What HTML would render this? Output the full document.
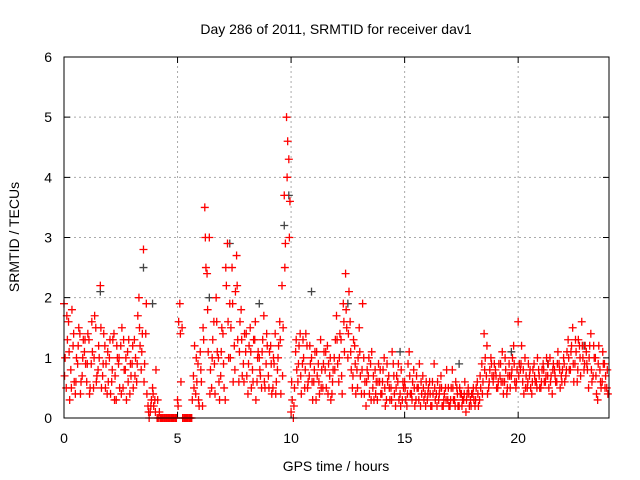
<!DOCTYPE html>
<html><head><meta charset="utf-8"><style>
body{margin:0;background:#fff;}
svg{display:block;font-family:"Liberation Sans",sans-serif;}
</style></head><body>
<svg id="chart" width="640" height="480" viewBox="0 0 640 480">
<rect width="640" height="480" fill="#fff"/>
<text x="336" y="34" font-size="14" text-anchor="middle">Day 286 of 2011, SRMTID for receiver dav1</text>
<text x="336" y="471" font-size="14" text-anchor="middle">GPS time / hours</text>
<text transform="translate(19,237) rotate(-90)" font-size="14" text-anchor="middle">SRMTID / TECUs</text>
<g id="grid"></g>
<g id="ticks"></g>
<g id="marks"></g>
<rect x="64" y="57" width="545" height="361" fill="none" stroke="#000" stroke-width="1"/>
</svg>
<script>
const xTicks=[0,5,10,15,20];
const yTicks=[0,1,2,3,4,5,6];
const redA=[1.9,0.5,1.6,0.8,1.2,0.4,0.9,1.4,0.7,1.1,
0.6,1.3,0.9,0.5,1.5,0.8,2.2,0.7,1.2,0.4,
1.0,0.6,1.4,0.3,0.9,1.2,0.5,0.8,1.1,0.4,
0.9,1.3,0.6,2.0,0.8,2.8,1.4,0.2,0.1,0.5,
0.3,0.0,0.1,0.0,0.0,0.0,0.0,0.0,0.0,0.0,
0.3,1.9,1.5,0.0,0.0,0.0,0.0,0.7,0.4,0.9,
1.1,0.2,3.5,2.4,3.0,0.5,1.6,2.0,1.0,0.7,
1.4,0.3,2.9,1.9,2.5,1.2,2.7,0.6,1.8,0.9,
1.1,0.4,1.5,0.8,1.3,0.6,1.0,0.5,1.7,0.9,
0.7,1.2,0.5,1.4,0.8,1.6,2.2,3.7,5.0,4.3,
0.1,0.0,1.1,0.6,1.4,0.9,0.5,1.2,0.7,1.0,
0.6,0.3,0.9,1.3,0.5,0.8,1.2,0.7,0.4,1.0,
1.7,0.6,1.3,1.9,2.4,1.0,1.6,0.5,1.2,0.8,
1.5,0.4,1.0,0.2,0.7,0.9,0.5,0.8,0.3,0.6,
0.4,1.0,0.3,0.7,0.5,0.9,0.2,0.6,0.4,0.3,
0.6,0.2,1.1,0.4,0.8,0.3,0.5,0.2,0.7,0.4,
0.3,0.6,0.2,0.9,0.4,0.3,0.7,0.2,0.5,0.3,
0.2,0.8,0.3,0.5,0.2,0.4,0.3,0.1,0.5,0.3,
0.4,0.2,0.6,0.3,0.9,1.4,0.7,0.5,1.0,0.6,
0.8,0.5,0.7,1.1,0.6,0.4,0.9,0.7,1.2,0.5,
1.6,0.8,0.6,1.0,0.5,0.7,0.4,0.9,0.6,0.8,
0.5,0.9,0.6,0.7,1.0,0.4,0.8,0.6,0.9,0.7,
1.0,0.7,1.3,0.8,1.5,0.9,0.6,1.2,1.6,0.8,
1.1,0.5,1.4,0.7,1.0,0.3,0.8,0.6,0.9,0.5];
const redB=[1.0,1.3,0.3,1.8,0.6,1.0,1.5,0.6,1.3,0.9,
1.4,0.5,1.1,1.7,0.7,1.0,0.5,1.4,0.9,0.6,
0.4,1.3,0.7,1.0,0.5,1.5,0.8,0.3,1.3,0.7,
0.5,1.0,1.7,1.2,1.4,0.9,0.4,0.0,0.3,0.2,
0.8,0.0,0.0,0.0,0.0,0.0,0.0,0.0,0.0,0.0,
1.6,0.6,0.0,0.0,0.0,0.0,0.3,1.2,0.6,0.2,
0.6,1.3,2.5,1.1,0.8,1.3,0.4,1.1,0.3,1.5,
0.5,2.2,1.0,1.5,0.6,2.1,1.3,1.6,0.7,1.4,
0.7,1.2,0.5,1.3,0.3,1.1,0.7,1.3,0.5,1.2,
1.1,0.4,0.9,0.6,1.2,0.4,1.5,2.9,4.6,3.6,
0.3,0.5,0.8,1.2,0.4,1.0,1.4,0.6,0.9,0.3,
1.1,0.7,0.4,0.8,1.1,0.5,0.9,0.3,0.8,1.3,
0.9,1.4,0.4,1.1,1.5,2.1,0.8,1.3,0.4,1.0,
0.7,1.9,0.6,0.8,0.4,1.1,0.3,0.6,0.9,0.4,
0.8,0.2,0.6,0.3,1.1,0.4,0.7,0.3,0.8,0.5,
0.3,0.9,0.4,0.6,0.2,0.5,0.9,0.4,0.3,0.6,
0.5,0.2,0.4,0.3,0.6,0.5,0.2,0.4,0.8,0.2,
0.5,0.3,0.6,0.2,0.4,0.3,0.6,0.4,0.2,0.4,
0.3,0.5,0.2,0.5,0.6,1.0,0.4,0.8,0.7,0.9,
0.5,0.9,0.6,0.4,0.8,0.7,0.5,1.0,0.6,0.8,
0.9,1.2,0.4,0.7,0.9,0.5,0.8,0.6,1.0,0.5,
0.8,0.6,1.0,0.5,0.7,0.9,0.6,1.1,0.5,0.8,
0.6,1.1,0.8,1.2,0.6,1.1,1.3,0.7,1.0,1.2,
0.8,1.2,0.6,1.0,0.4,1.2,0.5,0.9,0.7,0.4];
const redC=[0.7,1.7,1.1,0.5,1.4,0.6,1.2,0.4,1.0,1.3,
0.9,0.4,1.6,1.0,0.6,1.2,1.5,0.9,0.5,1.1,
1.3,0.8,0.3,1.2,1.0,0.4,1.3,1.0,0.6,0.9,
1.2,0.7,0.9,1.5,1.1,0.6,1.9,0.1,0.2,0.4,
0.1,0.3,0.0,0.0,0.0,0.0,0.0,0.0,0.0,0.0,
0.2,1.4,0.0,0.0,0.0,0.0,0.0,0.5,1.0,0.3,
0.8,1.5,3.0,1.8,0.4,1.0,0.9,1.6,0.6,1.1,
0.9,2.5,1.6,1.0,1.9,0.8,2.2,1.1,1.3,0.6,
1.4,0.9,1.1,0.6,1.6,1.0,0.8,1.1,0.6,1.4,
0.5,0.9,1.0,0.4,1.0,1.3,0.7,2.5,4.0,3.0,
0.6,0.2,1.3,0.9,0.7,1.3,0.8,0.5,1.2,0.6,
0.8,1.1,0.6,0.5,0.9,1.1,0.4,1.0,0.6,0.8,
1.3,1.0,0.7,1.6,1.8,1.4,1.1,0.7,0.9,0.5,
1.1,0.8,0.4,0.6,1.0,0.3,0.7,0.4,0.6,0.8,
0.6,0.5,0.9,0.5,0.3,0.7,0.5,0.9,0.2,0.6,
0.5,0.4,0.7,0.3,0.5,0.7,0.3,0.6,0.5,0.2,
0.4,0.4,0.6,0.5,0.2,0.4,0.5,0.3,0.3,0.5,
0.3,0.5,0.2,0.4,0.5,0.2,0.4,0.3,0.4,0.2,
0.5,0.3,0.4,0.7,0.4,0.8,1.2,0.6,0.9,0.7,
0.7,0.6,0.9,0.6,1.0,0.5,0.7,0.8,0.9,0.6,
0.7,0.9,0.8,0.5,0.6,0.8,0.6,0.7,0.5,0.7,
0.6,0.8,0.7,0.9,0.6,0.8,0.7,0.9,0.8,0.6,
0.9,0.8,1.0,1.1,0.9,1.3,0.8,1.0,1.2,0.9,
0.9,1.0,0.8,1.2,0.7,0.9,0.6,1.1,0.5,0.8];
const grayTimes=[1.6,3.5,3.9,6.4,7.3,8.6,9.7,9.9,10.9,12.5,14.8,17.4,19.7,21.3,22.9];
const grayVals=[2.1,2.5,1.9,2.0,2.9,1.9,3.2,3.7,2.1,1.9,1.1,0.9,1.1,0.9,1.2];
const X0=64,X1=609,Y0=418,Y1=57;
const xs=h=>X0+h/24*(X1-X0);
const ys=v=>Y0-v/6*(Y0-Y1);
const NS="http://www.w3.org/2000/svg";
const grid=document.getElementById('grid'),ticks=document.getElementById('ticks'),marks=document.getElementById('marks');
function mk(tag,attrs,parent){const e=document.createElementNS(NS,tag);for(const k in attrs)e.setAttribute(k,attrs[k]);parent.appendChild(e);return e;}
xTicks.forEach(t=>{
 const x=xs(t);
 if(t>0){const g=mk('line',{x1:x,x2:x,y1:Y0,y2:Y1,stroke:'#aaa','stroke-dasharray':'2,3'},grid);
 
 }
 const tk=mk('path',{d:`M${x},${Y0}v-6M${x},${Y1}v6`,stroke:'#000'},ticks);
 
 
 const tx=mk('text',{x:x,y:443,'font-size':14,'text-anchor':'middle'},ticks);tx.textContent=t;
 
 
});
yTicks.forEach(t=>{
 const y=ys(t);
 if(t>0&&t<6){const g=mk('line',{x1:X0,x2:X1,y1:y,y2:y,stroke:'#aaa','stroke-dasharray':'2,3'},grid);
 
 }
 const tk=mk('path',{d:`M${X0},${y}h6M${X1},${y}h-6`,stroke:'#000'},ticks);
 
 
 const tx=mk('text',{x:52,y:y+5,'font-size':14,'text-anchor':'end'},ticks);tx.textContent=t;
 
 
});
function plus(h,v,color){
 const x=xs(h),y=ys(v);
 const p=mk('path',{d:`M${x-4},${y}h8M${x},${y-4}v8`,stroke:color,'stroke-width':1.3},marks);
 
 
}
grayTimes.forEach((t,i)=>plus(t,grayVals[i],'#444'));
redA.forEach((v,i)=>plus(i*0.1,v,'#f00'));
redB.forEach((v,i)=>plus(i*0.1+0.05,v,'#f00'));
redC.forEach((v,i)=>plus(i*0.1+0.025,v,'#f00'));
</script>
</body></html>
